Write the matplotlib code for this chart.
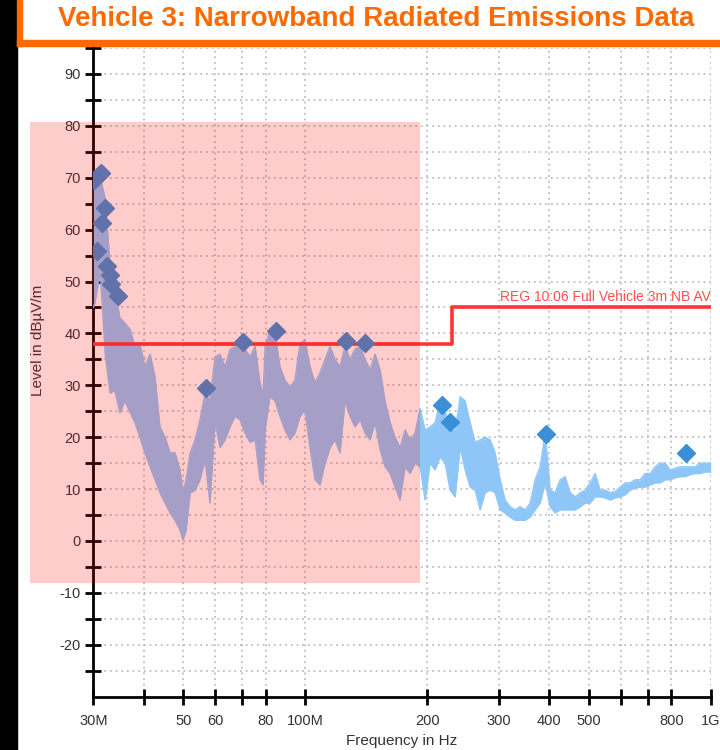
import matplotlib
matplotlib.use("Agg")
import matplotlib.pyplot as plt
from matplotlib.patches import Rectangle
from matplotlib.ticker import FixedLocator, FixedFormatter, NullLocator

plt.rcParams["font.family"] = ["Liberation Sans", "DejaVu Sans"]
plt.rcParams["axes.unicode_minus"] = False

# measured trace, min/max envelope per frequency step (MHz, dBuV/m)
freq = [30.0, 30.3, 31.2, 32.1, 33.0, 33.9, 34.9, 35.9, 37.0, 38.0,
        39.1, 40.2, 41.4, 42.6, 43.8, 45.1, 46.4, 47.7, 49.1, 49.9,
        50.8, 52.0, 53.5, 55.0, 56.6, 58.2, 59.9, 61.6, 63.4, 65.2,
        67.1, 69.0, 71.0, 73.1, 75.2, 77.3, 78.7, 79.6, 81.8, 84.2,
        86.6, 89.1, 91.7, 94.3, 97.0, 99.8, 102.7, 105.7, 108.7, 111.9,
        115.1, 118.4, 121.8, 125.3, 128.9, 132.7, 136.5, 140.4, 144.5, 148.6,
        152.9, 157.3, 161.9, 166.5, 171.3, 176.3, 181.3, 186.6, 191.9, 197.5,
        203.2, 209.0, 215.0, 221.2, 227.6, 234.2, 240.9, 247.9, 255.0, 262.4,
        269.9, 277.7, 285.7, 293.9, 302.4, 311.1, 320.1, 329.3, 338.8, 348.5,
        358.6, 368.9, 379.5, 390.5, 401.7, 413.3, 425.2, 437.5, 450.1, 463.0,
        476.4, 490.1, 504.2, 518.7, 533.7, 549.0, 564.9, 581.1, 597.9, 615.1,
        632.8, 651.1, 669.8, 689.1, 709.0, 729.4, 750.4, 772.0, 794.3, 817.2,
        840.7, 865.0, 889.9, 915.5, 941.9, 969.0, 1000.0]
level_max = [68, 71, 70, 66, 53, 48.5, 43, 42, 40.7, 37.5,
             38, 33.6, 36, 31.7, 22, 20, 17, 17, 13.7, 9.3,
             11.8, 17, 19.5, 23.4, 28.5, 27, 35.5, 36, 33.6, 36.9,
             37.5, 38, 37, 35.5, 37.5, 30.5, 28, 37.5, 40.7, 40,
             33.6, 31, 29.7, 31, 38, 38.8, 33.6, 30.5, 32.4, 35,
             37.5, 35, 33.6, 37.5, 35, 37, 37.5, 35, 33, 36,
             33, 27, 22.8, 20, 18, 21.4, 19.5, 20.8, 25.5, 21.4,
             22, 22.8, 27, 24.7, 22.8, 20.8, 27.8, 27, 22.8, 19,
             19.5, 20, 19.5, 17, 11.8, 7.9, 6.6, 6, 6.6, 6,
             7.3, 11.8, 14.3, 20.8, 9.8, 9.3, 11.8, 12.4, 9.3, 8.5,
             9.3, 9.8, 11.2, 13, 9.8, 9.8, 9.3, 9.5, 10.4, 11.2,
             11.2, 11.8, 11.8, 13, 13, 14.3, 15, 15, 13.7, 14,
             14.3, 14.3, 14.3, 14.3, 15, 15, 15]
level_min = [45, 46, 52, 36, 28.5, 29, 24.7, 27, 24.7, 22.8,
             20, 17, 14.3, 11.8, 9.3, 7.3, 5.4, 4, 2.1, 0.2,
             2, 9.3, 9.8, 11.8, 15.6, 7.3, 23, 18, 19.5, 22,
             24, 23.4, 20.8, 19, 19.5, 11.8, 10.8, 21.4, 27.8, 27,
             24, 21.4, 19.5, 20.8, 24, 25.3, 18, 11.8, 10.8, 15,
             18, 19.5, 17, 27, 24, 22, 23.4, 20.8, 19.5, 22.8,
             17.6, 14.3, 13, 10.4, 7.9, 14.3, 13, 15, 14.3, 7.9,
             15, 13.7, 16.2, 15, 9.8, 8.5, 18, 13.7, 10.4, 9.8,
             6, 9.3, 9.8, 9.3, 6, 5.4, 4.6, 4, 4, 4,
             4.6, 6, 7.3, 11.2, 6.6, 5.4, 6, 6, 6, 6,
             6.6, 7.3, 7.3, 8.5, 8.5, 8.3, 7.9, 8.3, 8.5, 8.9,
             9.8, 10.2, 10.4, 10.4, 10.8, 11.2, 11.2, 11.8, 11.8, 12.2,
             12.4, 12.4, 12.8, 13, 13, 13.3, 13.3]

# final peak measurements
peak_freq = [30.2, 30.9, 31.4, 32.1, 31.6, 30.7, 32.4, 32.9, 33.1, 34.6,
             56.9, 70.3, 84.5, 126.0, 140.0, 217.0, 227.0, 392.0, 867.0]
peak_level = [69.5, 70.5, 70.9, 64.2, 61.3, 55.8, 53.0, 51.3, 49.6, 47.2,
              29.4, 38.3, 40.5, 38.6, 38.2, 26.3, 23.0, 20.6, 16.9]

# limit line
limit_freq = [30, 230, 230, 1000]
limit_level = [38, 38, 45, 45]
limit_name = "REG 10:06 Full Vehicle 3m NB AV"

# highlighted band (MHz, dB)
band_freq = (20.9, 192.0)
band_level = (-8.1, 80.7)

xticks = [30, 40, 50, 60, 70, 80, 100, 200, 300, 400, 500, 600, 700, 800, 1000]
xlabels = ["30M", "", "50", "60", "", "80", "100M", "200", "300", "400",
           "500", "", "", "800", "1G"]

fig = plt.figure(figsize=(7.2, 7.5), dpi=100)
ax = fig.add_axes([0.1296, 0.0711, 0.8575, 0.8649])

trace_col = "#8fc6f8"
ax.fill_between(freq, level_min, level_max, color=trace_col, lw=0, zorder=3)
ax.plot(freq, level_max, color=trace_col, lw=1, zorder=3)
ax.plot(freq, level_min, color=trace_col, lw=1, zorder=3)
ax.plot(limit_freq, limit_level, color="#ff3535", lw=2.6, zorder=4)
ax.plot(peak_freq, peak_level, ls="none", marker="D", ms=9.5,
        color="#3a8fd6", zorder=5)
ax.text(1000, 45.7, limit_name, ha="right", va="bottom", fontsize=10,
        color="#ff5050", zorder=5)

ax.set_xscale("log")
ax.set_xlim(30, 1000)
ax.set_ylim(-30, 95)
ax.xaxis.set_major_locator(FixedLocator(xticks))
ax.xaxis.set_major_formatter(FixedFormatter(xlabels))
ax.xaxis.set_minor_locator(NullLocator())
ax.set_yticks(range(-20, 91, 10))
ax.set_yticks(range(-25, 96, 10), minor=True)
ax.tick_params(which="both", direction="inout", length=11, width=2,
               color="black", labelsize=10.5, labelcolor="#333333")
ax.tick_params(axis="x", pad=7)
ax.grid(True, which="both", color="#b4b4b4", ls=(0, (1.2, 2.5)), lw=1.1)
ax.set_axisbelow(True)

for side in ["top", "right"]:
    ax.spines[side].set_visible(False)
for side in ["left", "bottom"]:
    ax.spines[side].set_linewidth(2)

ax.set_xlabel("Frequency in Hz", fontsize=11, color="#333333")
ax.set_ylabel("Level in dBµV/m", fontsize=11, color="#333333")
ax.xaxis.set_label_coords(0.5, -0.058)
ax.yaxis.set_label_coords(-0.078, 0.55)

# translucent highlight over the lower band
ax.add_patch(Rectangle((band_freq[0], band_level[0]),
                       band_freq[1] - band_freq[0],
                       band_level[1] - band_level[0],
                       color="red", alpha=0.2, lw=0, clip_on=False, zorder=10))

# title banner
fig.patches.append(Rectangle((0, 0), 17 / 720, 1, color="black",
                             transform=fig.transFigure, figure=fig))
fig.patches.append(Rectangle((17 / 720, 1 - 46 / 750), 1, 6 / 750,
                             color="#ff6a00", transform=fig.transFigure, figure=fig))
fig.patches.append(Rectangle((17 / 720, 1 - 46 / 750), 5 / 720, 46 / 750,
                             color="#ff6a00", transform=fig.transFigure, figure=fig))
fig.text(0.523, 1 - 19 / 750, "Vehicle 3: Narrowband Radiated Emissions Data",
         ha="center", va="center", fontsize=20, fontweight="bold",
         color="#ff6a00")

fig.savefig("out.png", dpi=100)
